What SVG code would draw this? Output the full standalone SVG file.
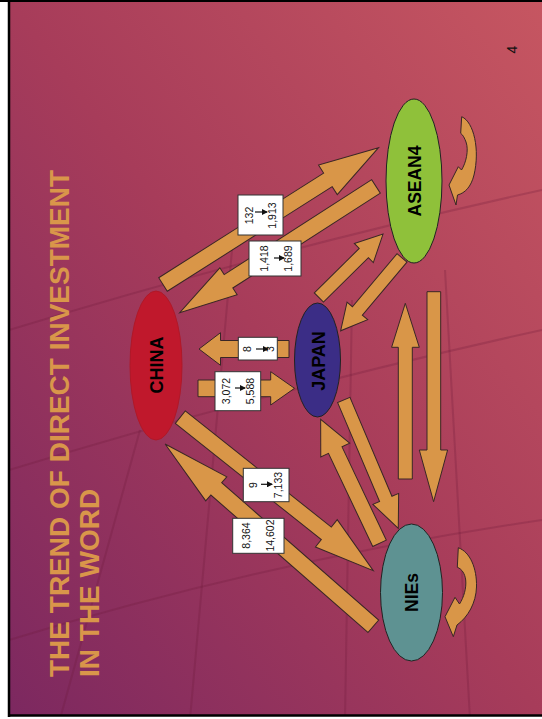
<svg xmlns="http://www.w3.org/2000/svg" width="542" height="719" viewBox="0 0 542 719">
<defs>
<linearGradient id="bg" x1="1" y1="0" x2="0" y2="1">
<stop offset="0" stop-color="#c65661"/>
<stop offset="0.5" stop-color="#a73c5a"/>
<stop offset="1" stop-color="#7c2860"/>
</linearGradient>
<clipPath id="bgclip"><rect x="9" y="1" width="533" height="714"/></clipPath>
<marker id="tri" markerUnits="userSpaceOnUse" markerWidth="6" markerHeight="6" refX="5" refY="3" orient="auto">
<polygon points="0,0 6,3 0,6" fill="#111"/>
</marker>
<style>
.arw{fill:#d99648;stroke:#3a2626;stroke-width:1;stroke-linejoin:miter}
.box{fill:#fff;stroke:#333;stroke-width:1}
.lbl{font-family:"Liberation Sans",Arial,sans-serif;font-size:10.5px;text-anchor:middle;fill:#111}
.nd{font-family:"Liberation Sans",Arial,sans-serif;font-weight:bold;text-anchor:middle;fill:#000}
.ttl{font-family:"Liberation Sans",Arial,sans-serif;font-weight:bold;font-size:28px;fill:#d9964a}
.sm{stroke:#111;stroke-width:1.2;marker-end:url(#tri)}
.grid{stroke:#6a1836;stroke-width:2;fill:none;opacity:0.25}
</style>
</defs>
<rect x="0" y="0" width="542" height="719" fill="#fff"/>
<rect x="9" y="1" width="533" height="715" fill="url(#bg)"/>
<g id="background-grid" clip-path="url(#bgclip)">
<path class="grid" d="M9,640 Q270,560 542,520"/>
<path class="grid" d="M9,470 Q270,390 542,330"/>
<path class="grid" d="M9,330 Q270,250 542,190"/>
<path class="grid" d="M190,719 L232,250"/>
<path class="grid" d="M345,719 L352,300"/>
<path class="grid" d="M470,719 L445,270"/>
<path class="grid" d="M60,719 L140,430"/>
</g>
<line x1="0" y1="1" x2="542" y2="1" stroke="#000" stroke-width="2"/>
<line x1="9" y1="0" x2="9" y2="717" stroke="#000" stroke-width="2.5"/>
<line x1="8" y1="715.5" x2="542" y2="715.5" stroke="#000" stroke-width="2.5"/>
<g id="title">
<text class="ttl" transform="translate(69,677) rotate(-90)">THE TREND OF DIRECT INVESTMENT</text>
<text class="ttl" transform="translate(99,677) rotate(-90)">IN THE WORD</text>
</g>
<text id="page-number" transform="translate(517,49.5) rotate(-90)" style="font-family:'Liberation Sans',Arial,sans-serif;font-size:14px;text-anchor:middle;fill:#111">4</text>
<g id="connectors">
<polygon class="arw" transform="translate(163,284.5) rotate(-32.4)" points="0,-8 195.3,-8 195.3,-17.5 255.3,0 195.3,17.5 195.3,8 0,8"/>
<polygon class="arw" transform="translate(376,186.4) rotate(147.25)" points="0,-8 175.4,-8 175.4,-16 233.4,0 175.4,16 175.4,8 0,8"/>
<polygon class="arw" transform="translate(318.9,297.5) rotate(-44.7)" points="0,-6.5 63.2,-6.5 63.2,-13.5 90.2,0 63.2,13.5 63.2,6.5 0,6.5"/>
<polygon class="arw" transform="translate(402,257.9) rotate(130.1)" points="0,-6.5 69.3,-6.5 69.3,-13.5 95.3,0 69.3,13.5 69.3,6.5 0,6.5"/>
<polygon class="arw" points="198,380 270.7,380 270.7,371.7 294.5,388.3 270.7,405 270.7,396.7 198,396.7"/>
<polygon class="arw" points="289,340.5 220.5,340.5 220.5,332.7 199,349 220.5,365.3 220.5,357.5 289,357.5"/>
<polygon class="arw" transform="translate(180.3,417.2) rotate(38.5)" points="0,-8 186.6,-8 186.6,-17.5 246.6,0 186.6,17.5 186.6,8 0,8"/>
<polygon class="arw" transform="translate(373.3,626.3) rotate(221.2)" points="0,-8.2 208.7,-8.2 208.7,-16 276.7,0 208.7,16 208.7,8.2 0,8.2"/>
<polygon class="arw" transform="translate(343.8,400) rotate(67)" points="0,-6.7 107.4,-6.7 107.4,-14 139.4,0 107.4,14 107.4,6.7 0,6.7"/>
<polygon class="arw" transform="translate(379.5,543.3) rotate(-115.4)" points="0,-7.5 103.2,-7.5 103.2,-16 137.2,0 103.2,16 103.2,7.5 0,7.5"/>
<polygon class="arw" points="398.3,479 398.3,347.3 391.6,347.3 405.3,303.3 419.3,347.3 412.3,347.3 412.3,479"/>
<polygon class="arw" points="427,291.7 440.7,291.7 440.7,450 447.6,450 433.6,501.7 419.3,450 427,450"/>
<path class="arw" d="M461.7,116.7 C474,122 480,150 474,175 C471,187 465,193 457.5,195 L456,205 L449,185 L458.3,166.7 L461.5,170 C466,163 469,150 466,142 C464.5,138 463,135 460.7,133.3 Z"/>
<path class="arw" d="M458.3,547.7 C470,552 477,568 476.5,587 C476,603 468,617 457,625 L453.3,636.7 L445,616.7 L455,597.3 L459.5,604 C464,597 466.5,588 465.7,580 C465,574 462,569 457.3,567.3 Z"/>
</g>
<g id="labels">
<g id="label-china-asean">
<rect class="box" x="238" y="195" width="45" height="40"/>
<text class="lbl" transform="translate(253,215.5) rotate(-90)">132</text>
<line class="sm" x1="255" y1="212" x2="267" y2="212"/>
<text class="lbl" transform="translate(276,215.5) rotate(-90)">1,913</text>
</g>
<g id="label-asean-china">
<rect class="box" x="249" y="241" width="52" height="35"/>
<text class="lbl" transform="translate(268,258.5) rotate(-90)">1,418</text>
<line class="sm" x1="274" y1="258" x2="284" y2="258"/>
<text class="lbl" transform="translate(292,258.5) rotate(-90)">1,689</text>
</g>
<g id="label-japan-china">
<rect class="box" x="238.3" y="337.3" width="39" height="22.7"/>
<text class="lbl" transform="translate(251,349) rotate(-90)">8</text>
<line class="sm" x1="256" y1="349" x2="268" y2="349"/>
<text class="lbl" transform="translate(274,349) rotate(-90)">3</text>
</g>
<g id="label-china-japan">
<rect class="box" x="215" y="371.7" width="45.7" height="39"/>
<text class="lbl" transform="translate(230,391) rotate(-90)">3,072</text>
<line class="sm" x1="235" y1="388" x2="245" y2="388"/>
<text class="lbl" transform="translate(254,391) rotate(-90)">5,588</text>
</g>
<g id="label-china-nies">
<rect class="box" x="243.3" y="468.3" width="45.7" height="33.4"/>
<text class="lbl" transform="translate(257,485) rotate(-90)">9</text>
<line class="sm" x1="261" y1="484.3" x2="272" y2="484.3"/>
<text class="lbl" transform="translate(282,485) rotate(-90)">7,133</text>
</g>
<g id="label-nies-china">
<rect class="box" x="232.7" y="518.3" width="51.3" height="35"/>
<text class="lbl" transform="translate(250,535.5) rotate(-90)">8,364</text>
<text class="lbl" transform="translate(274,535.5) rotate(-90)">14,602</text>
</g>
</g>
<g id="node-asean4">
<ellipse cx="414" cy="181" rx="28" ry="82" fill="#8fc13a" stroke="#222" stroke-width="1"/>
<text class="nd" font-size="17.5" transform="translate(420.7,181) rotate(-90)">ASEAN4</text>
</g>
<g id="node-china">
<ellipse cx="156" cy="365.5" rx="26" ry="74.5" fill="#c0182c" stroke="#b01828" stroke-width="1"/>
<text class="nd" font-size="18" transform="translate(162.5,365) rotate(-90)">CHINA</text>
</g>
<g id="node-japan">
<ellipse cx="317.5" cy="360" rx="23" ry="57" fill="#3b2d86" stroke="#222" stroke-width="1"/>
<text class="nd" font-size="18" transform="translate(325,361) rotate(-90)">JAPAN</text>
</g>
<g id="node-nies">
<ellipse cx="411.5" cy="592.5" rx="31" ry="68.5" fill="#5e9292" stroke="#222" stroke-width="1"/>
<text class="nd" font-size="17.5" transform="translate(418.3,592.5) rotate(-90)">NIEs</text>
</g>
</svg>
